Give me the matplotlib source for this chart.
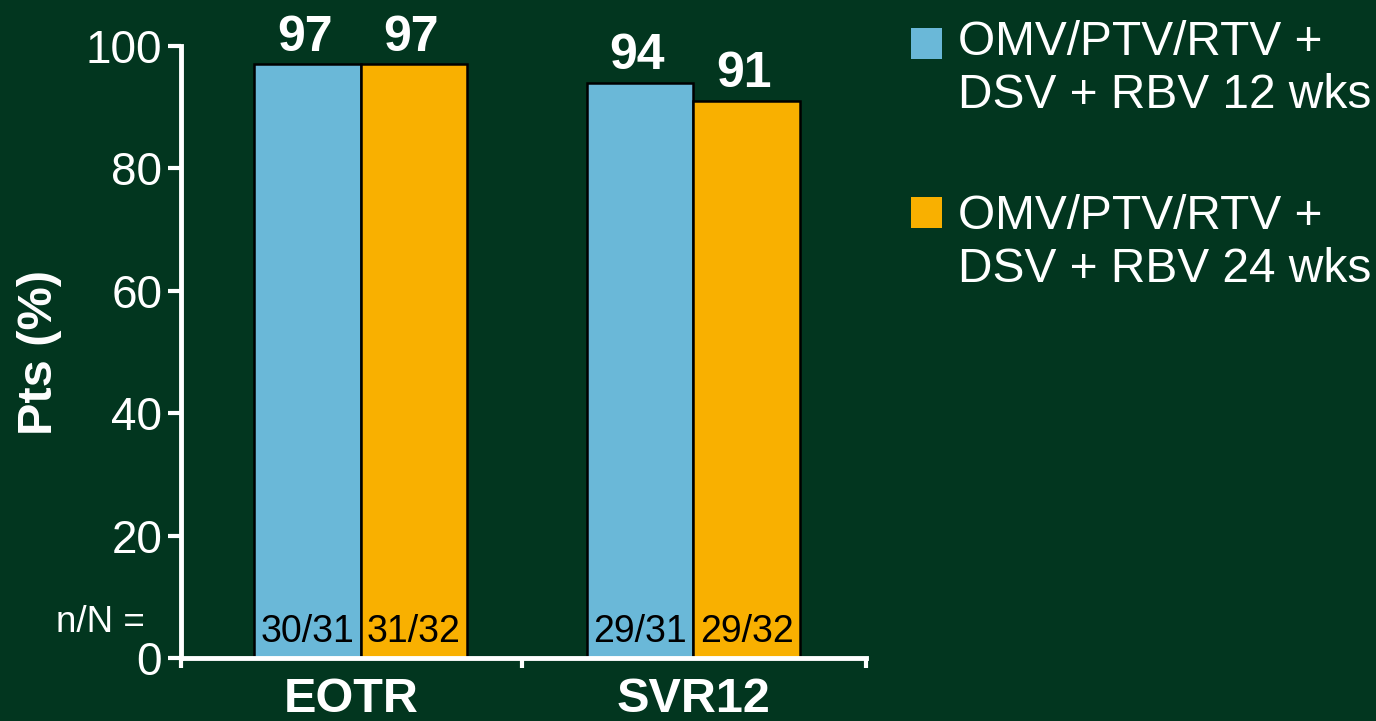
import matplotlib.pyplot as plt
from matplotlib.patches import Rectangle

plt.rcParams['font.family'] = ['Liberation Sans', 'DejaVu Sans']

bg = '#02361F'
blue = '#6AB8D8'
orange = '#F9B000'

categories = ['EOTR', 'SVR12']
wks12 = [97, 94]
wks24 = [97, 91]
n12 = ['30/31', '29/31']
n24 = ['31/32', '29/32']
legend_labels = ['OMV/PTV/RTV +\nDSV + RBV 12 wks', 'OMV/PTV/RTV +\nDSV + RBV 24 wks']

fig = plt.figure(figsize=(13.76, 7.21), dpi=100, facecolor=bg)
ax = fig.add_axes([0.1315, 0.0874, 0.4975, 0.8487])
ax.set_facecolor(bg)

w = 0.32
x = [0, 1]
b1 = ax.bar([i - w / 2 for i in x], wks12, w, color=blue, edgecolor='black', linewidth=1.8)
b2 = ax.bar([i + w / 2 for i in x], wks24, w, color=orange, edgecolor='black', linewidth=1.8)

for bars, vals, ns in [(b1, wks12, n12), (b2, wks24, n24)]:
    for r, v, n in zip(bars, vals, ns):
        cx = r.get_x() + r.get_width() / 2
        ax.annotate(str(v), (cx, v), xytext=(-2, 10), textcoords='offset points',
                    ha='center', va='baseline', fontsize=36, fontweight='bold', color='white')
        ax.annotate(n, (cx, 0), xytext=(0, 11.5), textcoords='offset points',
                    ha='center', va='baseline', fontsize=27, color='black')

ax.set_ylim(0, 100)
bounds = [-0.54, 0.486, 1.517]
ax.set_xlim(bounds[0], bounds[-1])
ax.set_yticks(range(0, 101, 20))
ax.tick_params(axis='y', colors='white', labelsize=33, length=9.5, width=3, pad=4, direction='out')
ax.set_xticks(bounds)
ax.set_xticklabels([])
ax.tick_params(axis='x', which='major', colors='white', length=7, width=3, direction='out')
mids = [(bounds[0] + bounds[1]) / 2, (bounds[1] + bounds[2]) / 2]
ax.set_xticks(mids, minor=True)
ax.set_xticklabels(categories, minor=True, fontsize=35, fontweight='bold', color='white')
ax.tick_params(axis='x', which='minor', length=0, pad=14)

for s in ['top', 'right']:
    ax.spines[s].set_visible(False)
for s in ['left', 'bottom']:
    ax.spines[s].set_color('white')
    ax.spines[s].set_linewidth(3.5)

ax.set_ylabel('Pts (%)', fontsize=35, fontweight='bold', color='white', labelpad=17)

fig.text(145 / 1376, 1 - 632 / 721, 'n/N =', ha='right', va='baseline', fontsize=26.5, color='white')

# legend drawn by hand so the swatches sit on the first text line
for col, lab, sq_top, tx_top in [(blue, legend_labels[0], 28, 20), (orange, legend_labels[1], 197, 194)]:
    sq = 31
    fig.add_artist(Rectangle((911 / 1376, 1 - (sq_top + sq) / 721), sq / 1376, sq / 721,
                             transform=fig.transFigure, facecolor=col, edgecolor='none'))
    fig.text(958 / 1376, 1 - tx_top / 721, lab, ha='left', va='top', fontsize=34.5,
             color='white', linespacing=1.23)

fig.savefig('out.png', dpi=100, facecolor=bg)
